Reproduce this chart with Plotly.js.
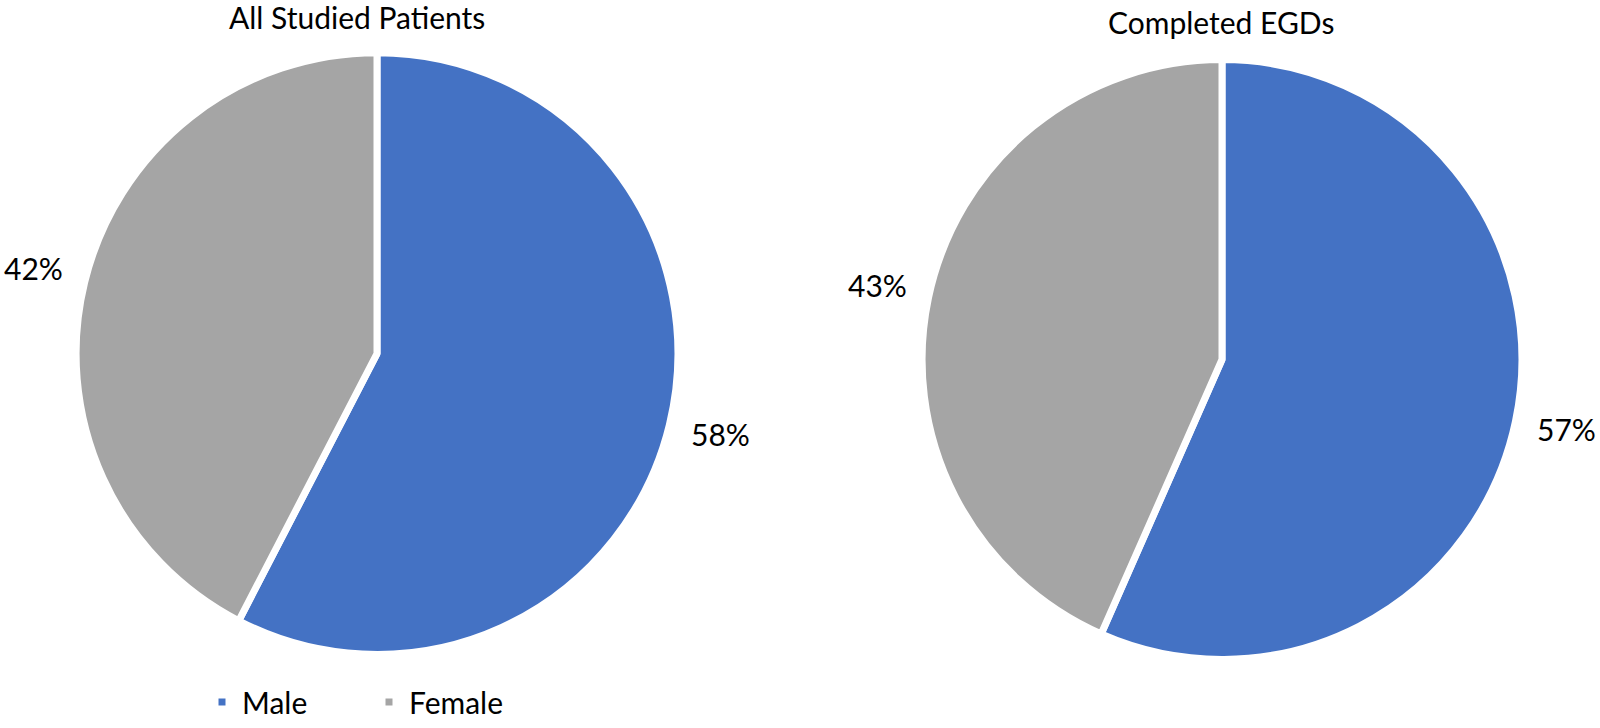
<!DOCTYPE html>
<html>
<head>
<meta charset="utf-8">
<script src="https://cdn.plot.ly/plotly-3.0.1.min.js"></script>
<style>html,body{margin:0;padding:0;background:#fff;}#chart{width:1600px;height:728px;}</style>
</head>
<body>
<div id="chart"></div>
<script>
const categories = ["Male", "Female"];
const allStudiedValues = [57.6, 42.4];
const completedEgdValues = [56.6, 43.4];
const chartTitles = ["All Studied Patients", "Completed EGDs"];
const sliceColors = ["#4472C4", "#A5A5A5"];

const W = 1600, H = 728;
const FONT = "Lato, 'Open Sans', sans-serif";
// pie geometry in pixels (center x, center y from top, radius)
const pies = [
  {cx: 377, cy: 353, r: 297, values: allStudiedValues, title: chartTitles[0], titleX: 357, titleY: 17, legend: "legend"},
  {cx: 1222, cy: 359, r: 296, values: completedEgdValues, title: chartTitles[1], titleX: 1221, titleY: 22, legend: "legend2"}
];

const data = [];
const annotations = [];
pies.forEach((p, i) => {
  const dr = p.r + 6, dcy = p.cy + 3;
  const domain = {
    x: [(p.cx - dr) / W, (p.cx + dr) / W],
    y: [(H - dcy - dr) / H, (H - dcy + dr) / H]
  };
  data.push({
    type: "pie",
    labels: categories,
    values: p.values,
    sort: false,
    direction: "clockwise",
    rotation: 0,
    domain: domain,
    textinfo: "none",
    hoverinfo: "label+percent",
    marker: {colors: sliceColors, line: {color: "#ffffff", width: 7}},
    legend: p.legend,
    showlegend: true
  });
  annotations.push({
    xref: "paper", yref: "paper",
    x: p.titleX / W, y: (H - p.titleY) / H,
    xanchor: "center", yanchor: "middle",
    text: p.title, showarrow: false,
    font: {family: FONT, size: 30, color: "#000"}
  });
  const total = p.values.reduce((a, b) => a + b, 0);
  let cum = 0;
  p.values.forEach(v => {
    const mid = (cum + v / 2) / total * 2 * Math.PI;
    cum += v;
    const d = p.r * 1.19;
    const px = p.cx + Math.sin(mid) * d;
    const py = p.cy - Math.cos(mid) * d;
    annotations.push({
      xref: "paper", yref: "paper",
      x: px / W, y: (H - py) / H,
      xanchor: "center", yanchor: "middle",
      text: Math.round(v / total * 100) + "%", showarrow: false,
      font: {family: FONT, size: 30, color: "#000"}
    });
  });
});

const legendBase = {
  orientation: "h", xanchor: "left", yanchor: "middle",
  font: {family: FONT, size: 30, color: "#000"},
  bgcolor: "rgba(0,0,0,0)", traceorder: "normal",
  entrywidth: 122, entrywidthmode: "pixels"
};

const layout = {
  width: W, height: H,
  margin: {l: 0, r: 0, t: 0, b: 0},
  paper_bgcolor: "#fff",
  font: {family: FONT},
  showlegend: true,
  legend: Object.assign({}, legendBase, {x: 202 / W, y: (H - 707) / H}),
  legend2: Object.assign({}, legendBase, {x: 1050 / W, y: (H - 712) / H}),
  annotations: annotations
};

Plotly.newPlot("chart", data, layout, {displayModeBar: false, staticPlot: true});
</script>
</body>
</html>
